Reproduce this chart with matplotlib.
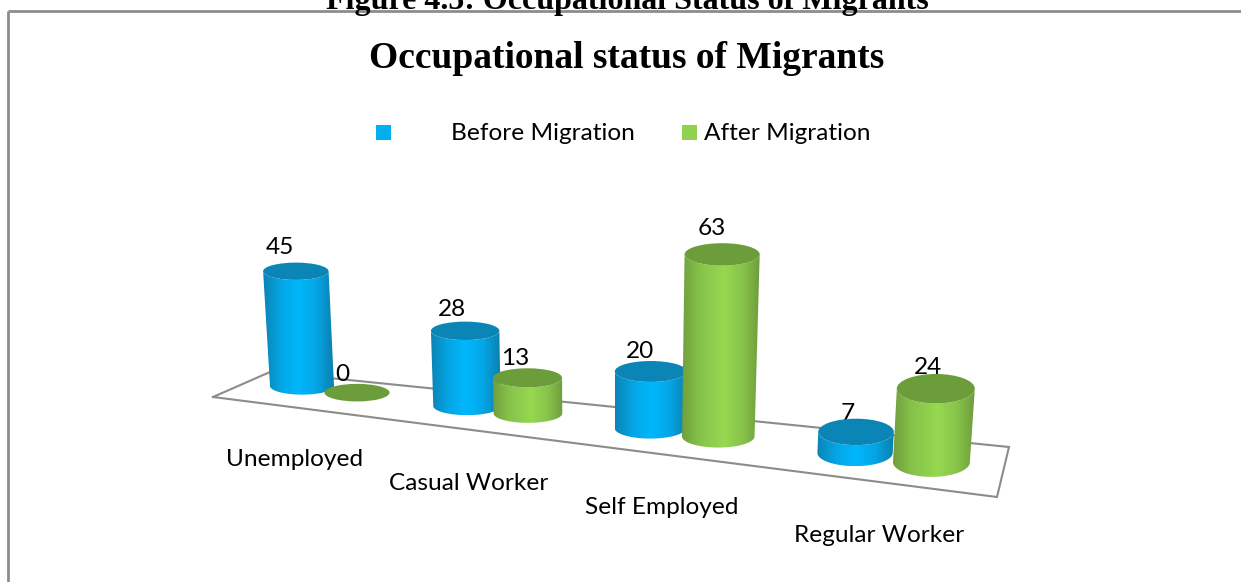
import numpy as np
import matplotlib

matplotlib.use("Agg")
import matplotlib.pyplot as plt
from matplotlib.colors import LinearSegmentedColormap
from matplotlib.patches import Ellipse, PathPatch, Rectangle
from matplotlib.path import Path

categories = ["Unemployed", "Casual Worker", "Self Employed", "Regular Worker"]
before = [45, 28, 20, 7]
after = [0, 13, 63, 24]

BLUE = "#00b0f0"
GREEN = "#92d050"
GRID = "#8c8c8c"
SANS = "Lato"
SERIF = "Liberation Serif"

# floor and depth model of the fake 3D view, in image pixels
FLOOR = [(213, 397), (270, 372), (1009, 447), (997, 497), (213, 397)]
LABEL_XY = [(295, 460), (469, 484), (662, 508), (879, 536)]
K = 0.05
SERIES_OFFSET = [0.0, 0.345]

blue_cmap = LinearSegmentedColormap.from_list(
    "b", [(0, "#0c83b4"), (0.25, "#04a6e6"), (0.5, "#00b8fc"), (0.75, "#04a6e6"), (1, "#0c7fae")]
)
green_cmap = LinearSegmentedColormap.from_list(
    "g", [(0, "#6f9f3e"), (0.22, "#86c249"), (0.55, "#97d851"), (0.8, "#86c249"), (1, "#6e9c3c")]
)


def cylinder(ax, u, value, cmap, top_color, z):
    persp = 1 / (1 - K * u)
    x0 = 302 + 156.7 * u * persp
    y0 = 386 + 0.121 * (x0 - 302)
    rx = 32 * persp
    ry = rx * (0.27 + 0.003 * u**3)
    h = value * 2.55 * persp
    x1 = x0 + h * (x0 - 600) * 0.00018
    y1 = y0 - h
    rx1 = rx * (1 + 0.0002 * h)

    if h > 0:
        t = np.linspace(0, np.pi, 60)
        # front half of the base, then back along the front of the top ellipse
        xs = np.concatenate([x0 + rx * np.cos(t[::-1]), x1 + rx1 * np.cos(t)])
        ys = np.concatenate([y0 + ry * np.sin(t[::-1]), y1 + ry * np.sin(t)])
        clip = PathPatch(Path(np.column_stack([xs, ys])), transform=ax.transData, fc="none", ec="none")
        ax.add_patch(clip)
        left = min(x0 - rx, x1 - rx1)
        right = max(x0 + rx, x1 + rx1)
        grad = np.linspace(0, 1, 128).reshape(1, -1)
        im = ax.imshow(
            grad,
            extent=(left, right, y0 + ry, y1 - ry),
            cmap=cmap,
            aspect="auto",
            zorder=z,
            interpolation="bilinear",
        )
        im.set_clip_path(clip)
    ax.add_patch(Ellipse((x1, y1), 2 * rx1, 2 * ry, fc=top_color, ec="none", zorder=z + 0.5))

    # value label sits behind the cylinders, so a low one gets partly covered
    ax.text(x1 - 16 + 2.5 * u, y1 - 18 - 0.12 * value, str(value), ha="center", va="center",
            fontsize=17.6, family=SANS, color="black", zorder=3)


fig = plt.figure(figsize=(12.41, 5.82), dpi=100)
ax = fig.add_axes([0, 0, 1, 1])
ax.axis("off")

# page heading, cut by the top of the crop
ax.text(627.5, 9.5, "Figure 4.5: Occupational Status of Migrants", ha="center", va="baseline",
        fontsize=23, family=SERIF, fontweight="bold", color="black", clip_on=True)

# chart frame: only the top and left edges are in the crop
ax.plot([8, 1241], [11, 11], color=GRID, lw=2, solid_capstyle="butt")
ax.plot([8, 8], [11, 582], color=GRID, lw=2, solid_capstyle="butt")

ax.text(627, 68, "Occupational status of Migrants", ha="center", va="baseline",
        fontsize=27, family=SERIF, fontweight="bold", color="black")

# legend
ax.add_patch(Rectangle((376, 125), 15, 15, fc=BLUE, ec="none"))
ax.text(451, 134, "Before Migration", ha="left", va="center", fontsize=17.6, family=SANS)
ax.add_patch(Rectangle((682, 125), 15, 15, fc=GREEN, ec="none"))
ax.text(704, 134, "After Migration", ha="left", va="center", fontsize=17.6, family=SANS)

fx, fy = zip(*FLOOR)
ax.plot(fx, fy, color=GRID, lw=1.5, zorder=1, solid_joinstyle="miter")

for i in range(len(categories)):
    cylinder(ax, i + SERIES_OFFSET[0], before[i], blue_cmap, "#0a85b5", 4 + i * 2)
    cylinder(ax, i + SERIES_OFFSET[1], after[i], green_cmap, "#6b9e3a", 5 + i * 2)
    ax.text(LABEL_XY[i][0], LABEL_XY[i][1], categories[i], ha="center", va="center",
            fontsize=17.6, family=SANS, color="black")

ax.set_xlim(0, 1241)
ax.set_ylim(582, 0)
fig.savefig("out.png", dpi=100, facecolor="white")
